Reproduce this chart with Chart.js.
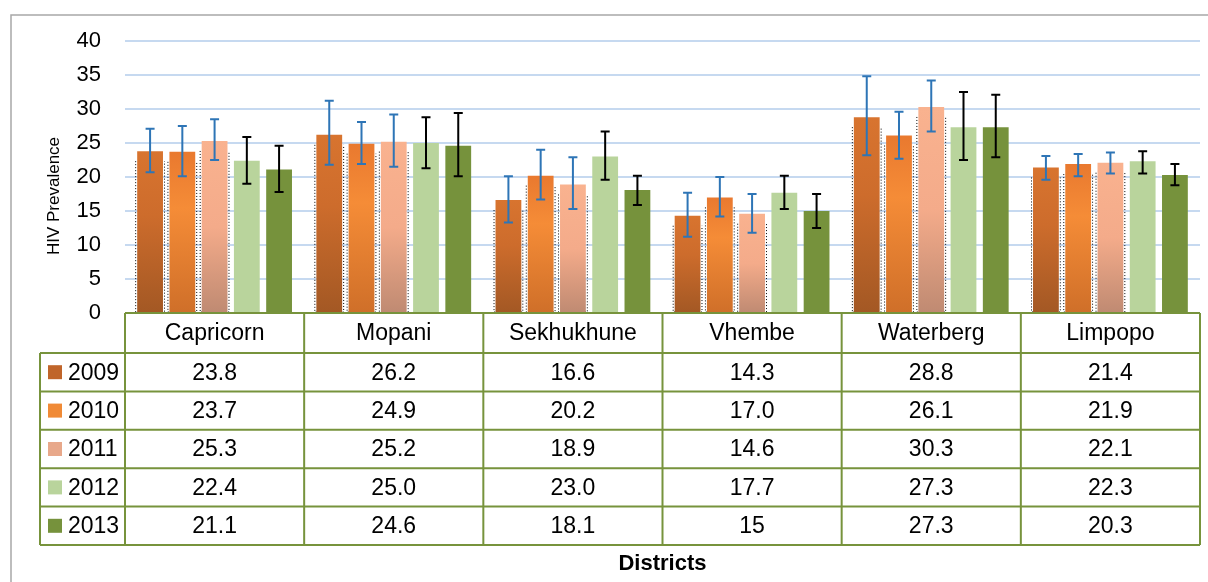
<!DOCTYPE html>
<html>
<head>
<meta charset="utf-8">
<script src="https://cdn.jsdelivr.net/npm/chart.js@4.4.0/dist/chart.umd.min.js"></script>
<style>
  html, body { margin: 0; padding: 0; background: #fff; }
</style>
</head>
<body>
<canvas id="hivChart" width="1208" height="582"></canvas>
<script>
var districts = ["Capricorn", "Mopani", "Sekhukhune", "Vhembe", "Waterberg", "Limpopo"];
var years = ["2009", "2010", "2011", "2012", "2013"];
var yTicks = [0, 5, 10, 15, 20, 25, 30, 35, 40];

// values as printed in the data table
var v2009 = ["23.8", "26.2", "16.6", "14.3", "28.8", "21.4"];
var v2010 = ["23.7", "24.9", "20.2", "17.0", "26.1", "21.9"];
var v2011 = ["25.3", "25.2", "18.9", "14.6", "30.3", "22.1"];
var v2012 = ["22.4", "25.0", "23.0", "17.7", "27.3", "22.3"];
var v2013 = ["21.1", "24.6", "18.1", "15", "27.3", "20.3"];

// error bar ends
var lo2009 = [20.7, 21.8, 13.3, 11.2, 23.2, 19.6];
var hi2009 = [27.1, 31.2, 20.1, 17.7, 34.8, 23.1];
var lo2010 = [20.1, 21.9, 16.7, 14.2, 22.7, 20.1];
var hi2010 = [27.5, 28.1, 24.0, 20.0, 29.6, 23.4];
var lo2011 = [22.5, 21.5, 15.3, 11.8, 26.7, 20.5];
var hi2011 = [28.5, 29.2, 22.9, 17.5, 34.2, 23.6];
var lo2012 = [19.0, 21.3, 19.6, 15.3, 22.5, 20.5];
var hi2012 = [25.9, 28.8, 26.7, 20.2, 32.5, 23.8];
var lo2013 = [17.8, 20.1, 15.9, 12.5, 22.9, 18.8];
var hi2013 = [24.6, 29.4, 20.2, 17.5, 32.1, 21.9];

var tableRows = [v2009, v2010, v2011, v2012, v2013];
var lows = [lo2009, lo2010, lo2011, lo2012, lo2013];
var highs = [hi2009, hi2010, hi2011, hi2012, hi2013];
var errColors = ['#2e75b6', '#2e75b6', '#2e75b6', '#000000', '#000000'];
var swatch = ['#c0652a', '#f08a36', '#e8a88a', '#b9d49c', '#76923c'];

var FONT = "'Liberation Sans', Arial, sans-serif";

function barGradient(stops) {
  return function(c) {
    var chart = c.chart;
    if (c.type !== 'data' || !chart.chartArea) return stops[0][1];
    var y = chart.scales.y;
    var top = y.getPixelForValue(c.raw);
    var bot = y.getPixelForValue(0);
    if (!isFinite(top) || bot - top < 1) return stops[0][1];
    var g = chart.ctx.createLinearGradient(0, top, 0, bot);
    stops.forEach(function(s) { g.addColorStop(s[0], s[1]); });
    return g;
  };
}

var grad2009 = barGradient([[0, '#d8742f'], [0.4, '#cd6c2c'], [1, '#a35824']]);
var grad2010 = barGradient([[0, '#e9792f'], [0.35, '#f58c37'], [1, '#cf6f29']]);
var grad2011 = barGradient([[0, '#f9b28f'], [0.5, '#f4ab8a'], [1, '#bf8a72']]);

var tablePlugin = {
  id: 'tablePlugin',
  beforeDraw: function(chart) {
    var ctx = chart.ctx;
    ctx.save();
    ctx.strokeStyle = '#a8a8a8';
    ctx.lineWidth = 1.5;
    ctx.beginPath();
    ctx.moveTo(11, 582);
    ctx.lineTo(11, 15);
    ctx.lineTo(1208, 15);
    ctx.stroke();
    ctx.restore();
  },
  beforeDatasetsDraw: function(chart) {
    // dotted outline behind the first three series
    var ctx = chart.ctx;
    ctx.save();
    ctx.strokeStyle = '#000';
    ctx.lineWidth = 1;
    ctx.setLineDash([1, 2]);
    for (var d = 0; d < 3; d++) {
      chart.getDatasetMeta(d).data.forEach(function(bar) {
        var l = bar.x - bar.width / 2 - 1.5;
        var r = bar.x + bar.width / 2 + 1.5;
        ctx.beginPath();
        ctx.moveTo(l, bar.y + 10);
        ctx.lineTo(l, bar.base);
        ctx.lineTo(r, bar.base);
        ctx.lineTo(r, bar.y + 10);
        ctx.stroke();
      });
    }
    ctx.restore();
  },
  afterDatasetsDraw: function(chart) {
    var ctx = chart.ctx;
    var y = chart.scales.y;
    ctx.save();
    ctx.lineWidth = 2;
    for (var d = 0; d < years.length; d++) {
      ctx.strokeStyle = errColors[d];
      chart.getDatasetMeta(d).data.forEach(function(bar, i) {
        var yl = y.getPixelForValue(lows[d][i]);
        var yh = y.getPixelForValue(highs[d][i]);
        ctx.beginPath();
        ctx.moveTo(bar.x, yl); ctx.lineTo(bar.x, yh);
        ctx.moveTo(bar.x - 4.5, yl); ctx.lineTo(bar.x + 4.5, yl);
        ctx.moveTo(bar.x - 4.5, yh); ctx.lineTo(bar.x + 4.5, yh);
        ctx.stroke();
      });
    }
    ctx.restore();
  },
  afterDraw: function(chart) {
    var ctx = chart.ctx;
    var area = chart.chartArea;
    var n = districts.length;
    var colW = (area.right - area.left) / n;
    var top = area.bottom;
    var headH = 40, rowH = 38.4, legLeft = 40;
    var bottom = top + headH + rowH * years.length;

    ctx.save();
    // cell text
    ctx.fillStyle = '#000';
    ctx.font = '23px ' + FONT;
    ctx.textAlign = 'center';
    ctx.textBaseline = 'middle';
    districts.forEach(function(name, i) {
      ctx.fillText(name, area.left + colW * (i + 0.5), top + headH / 2 + 1);
    });
    tableRows.forEach(function(row, r) {
      var cy = top + headH + rowH * (r + 0.5) + 1;
      row.forEach(function(txt, i) {
        ctx.fillText(txt, area.left + colW * (i + 0.5), cy);
      });
    });
    ctx.textAlign = 'left';
    years.forEach(function(yr, r) {
      var cy = top + headH + rowH * (r + 0.5);
      ctx.fillStyle = swatch[r];
      ctx.fillRect(48, cy - 7, 14, 14);
      ctx.fillStyle = '#000';
      ctx.fillText(yr, 68, cy + 1);
    });

    // grid lines of the table
    ctx.strokeStyle = '#77933c';
    ctx.lineWidth = 2;
    ctx.beginPath();
    ctx.moveTo(area.left, top); ctx.lineTo(area.right, top);
    for (var r = 0; r <= years.length; r++) {
      var yy = top + headH + rowH * r;
      ctx.moveTo(legLeft, yy); ctx.lineTo(area.right, yy);
    }
    ctx.moveTo(legLeft, top + headH); ctx.lineTo(legLeft, bottom);
    for (var k = 0; k <= n; k++) {
      var xx = area.left + colW * k;
      ctx.moveTo(xx, top); ctx.lineTo(xx, bottom);
    }
    ctx.stroke();

    // axis titles
    ctx.fillStyle = '#000';
    ctx.font = 'bold 22px ' + FONT;
    ctx.textAlign = 'center';
    ctx.fillText('Districts', (area.left + area.right) / 2, 564);

    ctx.translate(54, 196);
    ctx.rotate(-Math.PI / 2);
    ctx.font = '17px ' + FONT;
    ctx.fillText('HIV Prevalence', 0, 0);
    ctx.restore();
  }
};

var ctx = document.getElementById('hivChart').getContext('2d');
var chart = new Chart(ctx, {
  type: 'bar',
  data: {
    labels: districts,
    datasets: [
      { label: years[0], data: v2009.map(Number), backgroundColor: grad2009 },
      { label: years[1], data: v2010.map(Number), backgroundColor: grad2010 },
      { label: years[2], data: v2011.map(Number), backgroundColor: grad2011 },
      { label: years[3], data: v2012.map(Number), backgroundColor: '#b9d49c' },
      { label: years[4], data: v2013.map(Number), backgroundColor: '#76923c' }
    ]
  },
  options: {
    responsive: false,
    animation: false,
    devicePixelRatio: 1,
    categoryPercentage: 0.9,
    barPercentage: 0.8,
    layout: { padding: { top: 41, right: 8, bottom: 269, left: 0 } },
    plugins: {
      legend: { display: false },
      tooltip: { enabled: false }
    },
    scales: {
      x: { display: false },
      y: {
        min: 0,
        max: 40,
        afterFit: function(scale) { scale.width = 125; },
        afterBuildTicks: function(scale) {
          scale.ticks = yTicks.map(function(v) { return { value: v }; });
        },
        grid: { color: '#c6d9f0', lineWidth: 2, drawTicks: false },
        border: { display: false },
        ticks: {
          padding: 24,
          color: '#000',
          font: { family: FONT, size: 22 }
        }
      }
    }
  },
  plugins: [tablePlugin]
});
</script>
</body>
</html>
